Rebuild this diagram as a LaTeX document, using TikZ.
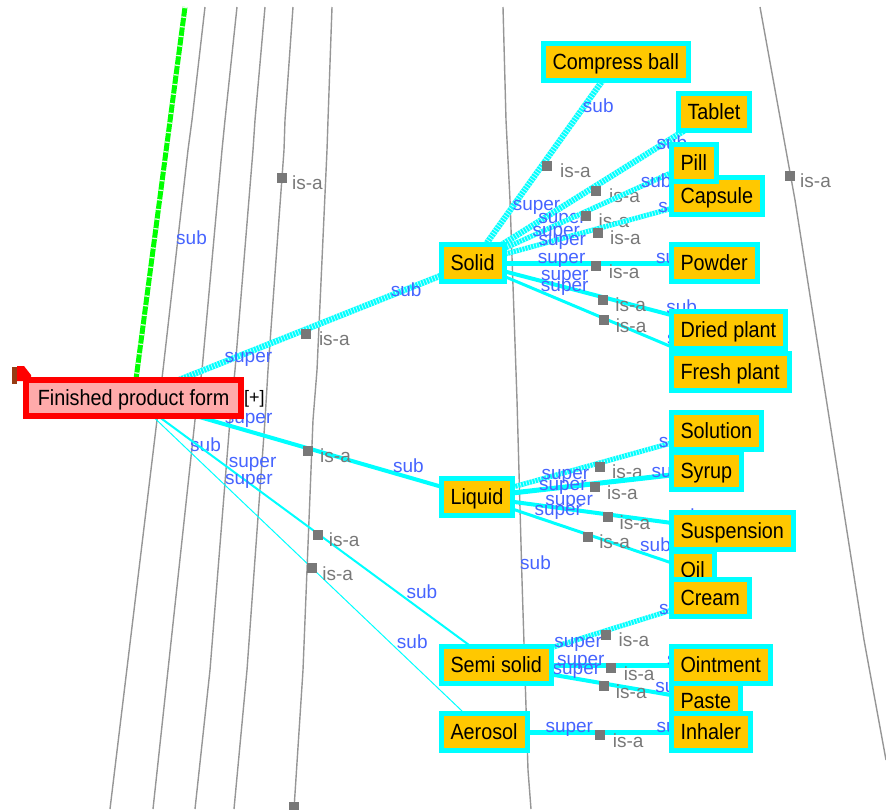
\documentclass[tikz,border=0pt]{standalone}
\usepackage{fontspec}
\setmainfont{Liberation Sans}
\newfontfamily\classfont[FakeStretch=0.9]{Liberation Sans}
\definecolor{cy}{RGB}{0,255,255}
\definecolor{orng}{RGB}{255,200,0}
\definecolor{pinkf}{RGB}{255,170,170}
\definecolor{rootred}{RGB}{255,0,0}
\definecolor{lblue}{RGB}{70,100,255}
\definecolor{isagray}{RGB}{120,120,120}
\definecolor{wire}{RGB}{150,150,150}
\definecolor{flagbrown}{RGB}{150,60,20}
\definecolor{grn}{RGB}{0,255,0}
\pgfdeclarelayer{edges}
\pgfsetlayers{edges,main}

% one is-a relation: style, parent, child
\newcommand\relation[3]{%
  \draw[#1] (#2.center) -- (#3.center)
    node[supl] (#2-#3-super) {super}
    node[subl] (#2-#3-sub) {sub}
    node[pos=.5, isasq, xshift=3pt, yshift=-3pt] (#2-#3-sq) {}
    node[pos=.5, isa, xshift=13pt, yshift=-15pt] (#2-#3-isa) {is-a};}

\begin{document}
\begin{tikzpicture}[x=1pt,y=-1pt,
  cls/.style={draw=cy, fill=orng, line width=5pt, inner xsep=9.5pt, inner ysep=0pt,
    minimum height=37pt, text height=15.6pt, text depth=0pt,
    font=\classfont\fontsize{22}{26}\selectfont, anchor=west},
  rootcls/.style={cls, draw=rootred, fill=pinkf, line width=6pt, inner xsep=11.8pt, minimum height=36pt},
  lbl/.style={text=lblue, font=\fontsize{19}{22}\selectfont, inner sep=0pt, anchor=base west},
  supl/.style={lbl, pos=.26},
  subl/.style={lbl, pos=.75},
  isa/.style={text=isagray, font=\fontsize{19}{22}\selectfont, inner sep=0pt, anchor=base west},
  isasq/.style={fill=isagray, minimum size=10pt, inner sep=0pt},
  rel/.style={draw=cy, line width=#1},
  hatch/.style={draw=cy, line width=#1,
    postaction={draw=white, line width=#1, dash pattern=on 0.8pt off 2.2pt, opacity=.7}},
  ghatch/.style={draw=grn, line width=#1,
    postaction={draw=white, line width=#1, dash pattern=on 1.2pt off 8.5pt, opacity=.9}},
  wireline/.style={draw=wire, line width=1.4pt},
]
\useasboundingbox (0,0) rectangle (886,809);

% flag of the selected class
\fill[flagbrown] (12,367) rectangle (17,384);
\fill[rootred] (17,366) -- (24,366) -- (31,375) -- (31,381) -- (17,381) -- cycle;

% root class
\node[rootcls] (fpf) at (23,398) {Finished product form};
\node[font=\fontsize{18}{20}\selectfont, inner sep=0pt, anchor=west] (expand) at (244,399) {[+]};

% first level
\node[cls] (solid) at (438.5,263) {Solid};
\node[cls] (liquid) at (438.5,497) {Liquid};
\node[cls] (semi) at (438.5,665) {Semi solid};
\node[cls] (aero) at (438.5,732) {Aerosol};

% second level
\node[cls] (cball) at (540.5,62) {Compress ball};
\node[cls] (tablet) at (675.5,112) {Tablet};
\node[cls] (capsule) at (668.5,196) {Capsule};
\node[cls] (pill) at (668.5,162.5) {Pill};
\node[cls] (powder) at (668.5,263) {Powder};
\node[cls] (dried) at (668.5,330) {Dried plant};
\node[cls] (fresh) at (668.5,371.5) {Fresh plant};
\node[cls] (solution) at (668.5,430.5) {Solution};
\node[cls] (syrup) at (668.5,471) {Syrup};
\node[cls] (susp) at (668.5,531) {Suspension};
\node[cls] (oil) at (668.5,570) {Oil};
\node[cls] (cream) at (668.5,598) {Cream};
\node[cls] (paste) at (668.5,701) {Paste};
\node[cls] (oint) at (668.5,665) {Ointment};
\node[cls] (inhaler) at (668.5,732) {Inhaler};

\begin{pgfonlayer}{edges}
  % relations to classes outside the view
  \draw[wireline] (205,7) -- (192,120) -- (188,150) -- (163,370) -- (157,420) -- (110,809);
  \draw[wireline] (237,7) -- (225,120) -- (222,150) -- (202,370) -- (195,420) -- (168,670) -- (153,809);
  \draw[wireline] (265,7) -- (255,120) -- (253,150) -- (235,370) -- (230,420) -- (210,670) -- (195,809);
  \draw[wireline] (293,7) -- (285,120) -- (284,150) -- (268,370) -- (265,420) -- (247,670) -- (234,809);
  \draw[wireline] (332,7) -- (328,120) -- (327,150) -- (317,370) -- (313,420) -- (303,670) -- (294,809);
  \draw[wireline] (503,7) -- (506,120) -- (510,200) -- (517,400) -- (522,580) -- (528,770) -- (531,809);
  \draw[wireline] (760,7) -- (795,200) -- (864,640) -- (886,760);
  \node[isasq] (dsq) at (281.5,178) {};
  \node[isa] (disa) at (292,189) {is-a};
  \node[isasq] (gsq) at (790,176) {};
  \node[isa] (gisa) at (800,187) {is-a};
  \node[isasq] (esq) at (294,807) {};
  \node[lbl] (asub) at (176,244) {sub};
  \node[lbl] (bsub) at (190,451) {sub};
  \node[lbl] (fsub) at (520,569) {sub};
  \coordinate (upper) at (185,7);
  \draw[ghatch=5pt] (upper) -- (fpf.center);

  % subclass relations
  \relation{hatch=6pt}{fpf}{solid}
  \relation{rel=4pt}{fpf}{liquid}
  \relation{rel=2pt}{fpf}{semi}
  \relation{rel=1pt}{fpf}{aero}
  \relation{hatch=6pt}{solid}{cball}
  \relation{hatch=6pt}{solid}{tablet}
  \relation{hatch=5pt}{solid}{pill}
  \relation{hatch=5pt}{solid}{capsule}
  \relation{rel=5pt}{solid}{powder}
  \relation{rel=4pt}{solid}{dried}
  \relation{rel=3pt}{solid}{fresh}
  \relation{hatch=5pt}{liquid}{solution}
  \relation{rel=5pt}{liquid}{syrup}
  \relation{rel=4pt}{liquid}{susp}
  \relation{rel=3pt}{liquid}{oil}
  \relation{hatch=5pt}{semi}{cream}
  \relation{rel=5pt}{semi}{oint}
  \relation{rel=4pt}{semi}{paste}
  \relation{rel=5pt}{aero}{inhaler}
\end{pgfonlayer}
\end{tikzpicture}
\end{document}
